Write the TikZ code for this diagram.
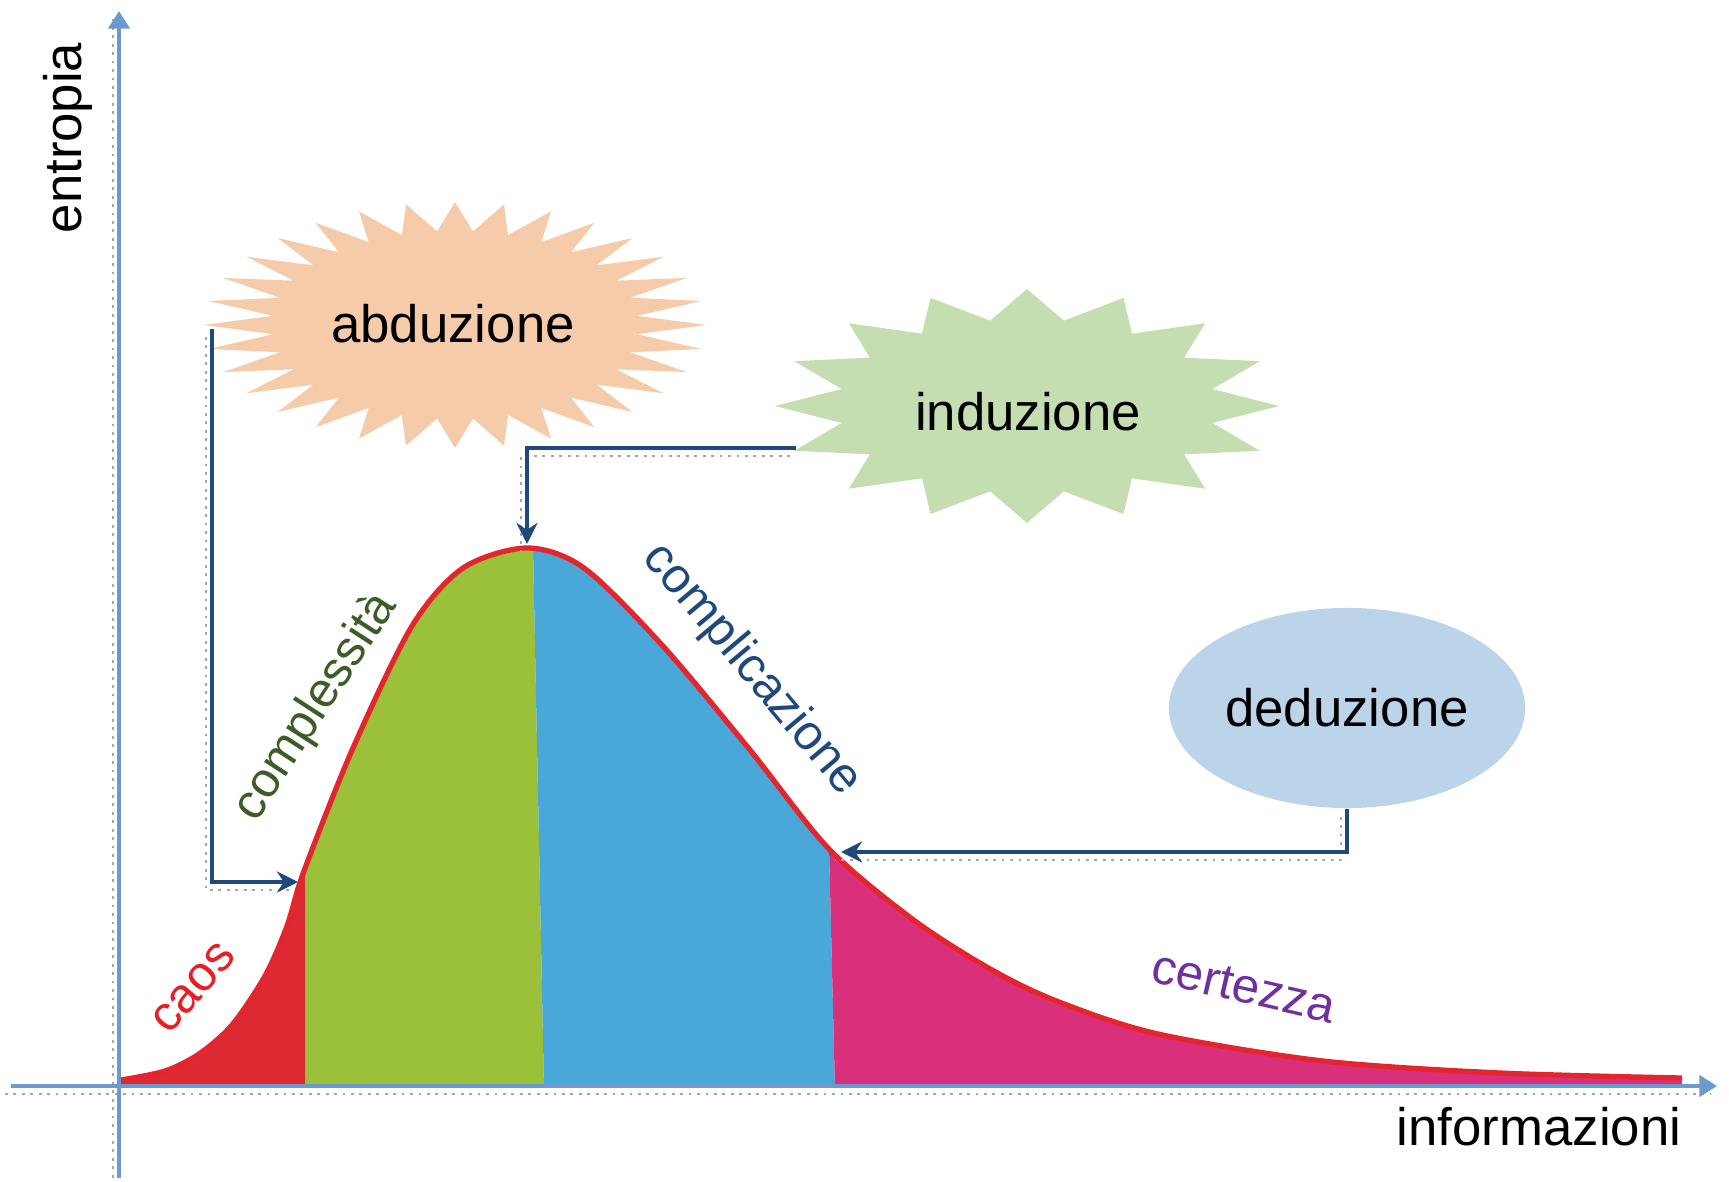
\documentclass[tikz,border=0pt]{standalone}
\usepackage{fontspec}
\setmainfont{Liberation Sans}
\usepackage{tikz}
\usetikzlibrary{shapes.geometric}
\usetikzlibrary{arrows.meta,backgrounds,positioning}

\definecolor{abdpeach}{RGB}{245,203,170}
\definecolor{indgreen}{RGB}{196,222,178}
\definecolor{dedblue}{RGB}{188,212,234}
\definecolor{caosfill}{RGB}{221,41,50}
\definecolor{complfill}{RGB}{155,192,57}
\definecolor{complicfill}{RGB}{74,168,217}
\definecolor{certfill}{RGB}{218,47,122}
\definecolor{curvered}{RGB}{227,38,45}
\definecolor{axisblue}{RGB}{106,154,208}
\definecolor{navy}{RGB}{31,73,125}
\definecolor{caostext}{RGB}{237,28,36}
\definecolor{compltext}{RGB}{60,92,40}
\definecolor{certtext}{RGB}{112,48,160}

\newcommand{\bellcurve}{plot[smooth, tension=0.5] coordinates {(121,1080) (165,1071) (199,1054) (232,1025) (265,976) (287,926) (304,871) (353,748) (412,626) (463,568) (527,548) (584,568) (662,645) (750,750) (829,849) (915,921) (992,970) (1059,1002) (1158,1034) (1323,1061) (1500,1073) (1682,1078)}}

\begin{document}
\begin{tikzpicture}[x=0.01cm, y=-0.01cm,
    axisline/.style={line width=1.1pt, axisblue, -{Triangle[width=6pt,length=5pt]}},
    shadowline/.style={gray!70, line width=0.6pt, dash pattern=on 0.8pt off 1.6pt,
      transform canvas={shift={(-0.06cm,-0.08cm)}}},
    conn/.style={line width=0.9pt, navy, -{Stealth[length=6pt,width=6pt]}},
    word/.style={font=\fontsize{15}{18}\selectfont},
    curvelabel/.style={font=\fontsize{14}{17}\selectfont}]
  \useasboundingbox (0,0) rectangle (1729,1182);

  % areas under the curve
  \begin{scope}
    \clip \bellcurve -- (1682,1086) -- (121,1086) -- cycle;
    \fill [caosfill]    (100,400) -- (305,400) -- (305,1090) -- (100,1090) -- cycle;
    \fill [complfill]   (305,400) -- (530,400) -- (544,1090) -- (305,1090) -- cycle;
    \fill [complicfill] (530,400) -- (818,400) -- (835,1090) -- (544,1090) -- cycle;
    \fill [certfill]    (818,400) -- (1800,400) -- (1800,1090) -- (835,1090) -- cycle;
  \end{scope}
  \draw [curvered, line width=1.5pt, line join=round] \bellcurve;

  % axes
  \coordinate (ybottom) at (119,1178);
  \coordinate (ytop) at (119,11);
  \coordinate (xleft) at (11,1086);
  \coordinate (xright) at (1717,1086);
  \draw [shadowline] (ybottom) -- (ytop);
  \draw [shadowline] (xleft) -- (xright);
  \draw [axisline] (ybottom) -- (ytop);
  \draw [axisline] (xleft) -- (xright);
  \node [word, rotate=90] (entropia) at (68,138) {entropia};
  \node [word] (informazioni) at (1539,1127) {informazioni};

  % abduzione
  \coordinate (abd) at (455,325);
  \fill [abdpeach, shift={(abd)}] (0:251 and 123)
    \foreach \k in {0,...,31} { -- (\k*11.25:251 and 123) -- (\k*11.25+5.625:183 and 94) } -- cycle;
  \node [word] (abduzione) at (453,324) {abduzione};

  % induzione
  \coordinate (ind) at (1027,406);
  \fill [indgreen, shift={(ind)}] (0:252 and 117)
    \foreach \k in {0,...,15} { -- (\k*22.5:252 and 117) -- (\k*22.5+11.25:189 and 87) } -- cycle;
  \node [word] (induzione) at (1028,412) {induzione};

  % deduzione
  \node [word, ellipse, fill=dedblue, minimum width=3.56cm, minimum height=2cm, inner sep=0pt] (deduzione) at (1347,708) {deduzione};

  % connectors
  \coordinate (abdfoot) at (212,329);
  \coordinate (caostop) at (298,882);
  \coordinate (indfoot) at (796,448);
  \coordinate (peak) at (527,544);
  \coordinate (complend) at (841,852);
  \draw [shadowline] (abdfoot) |- (caostop);
  \draw [shadowline] (indfoot) -| (peak);
  \draw [shadowline] (deduzione.south) |- (complend);
  \draw [conn] (abdfoot) |- (caostop);
  \draw [conn] (indfoot) -| (peak);
  \draw [conn] (deduzione.south) |- (complend);

  % labels on the curve
  \node [curvelabel, text=caostext, rotate=49] (caos) at (194,988) {caos};
  \node [curvelabel, text=compltext, rotate=57] (complessita) at (316,707) {complessità};
  \node [curvelabel, text=navy, rotate=-50] (complicazione) at (752,670) {complicazione};
  \node [curvelabel, text=certtext, rotate=-13] (certezza) at (1244,987) {certezza};
\end{tikzpicture}
\end{document}
